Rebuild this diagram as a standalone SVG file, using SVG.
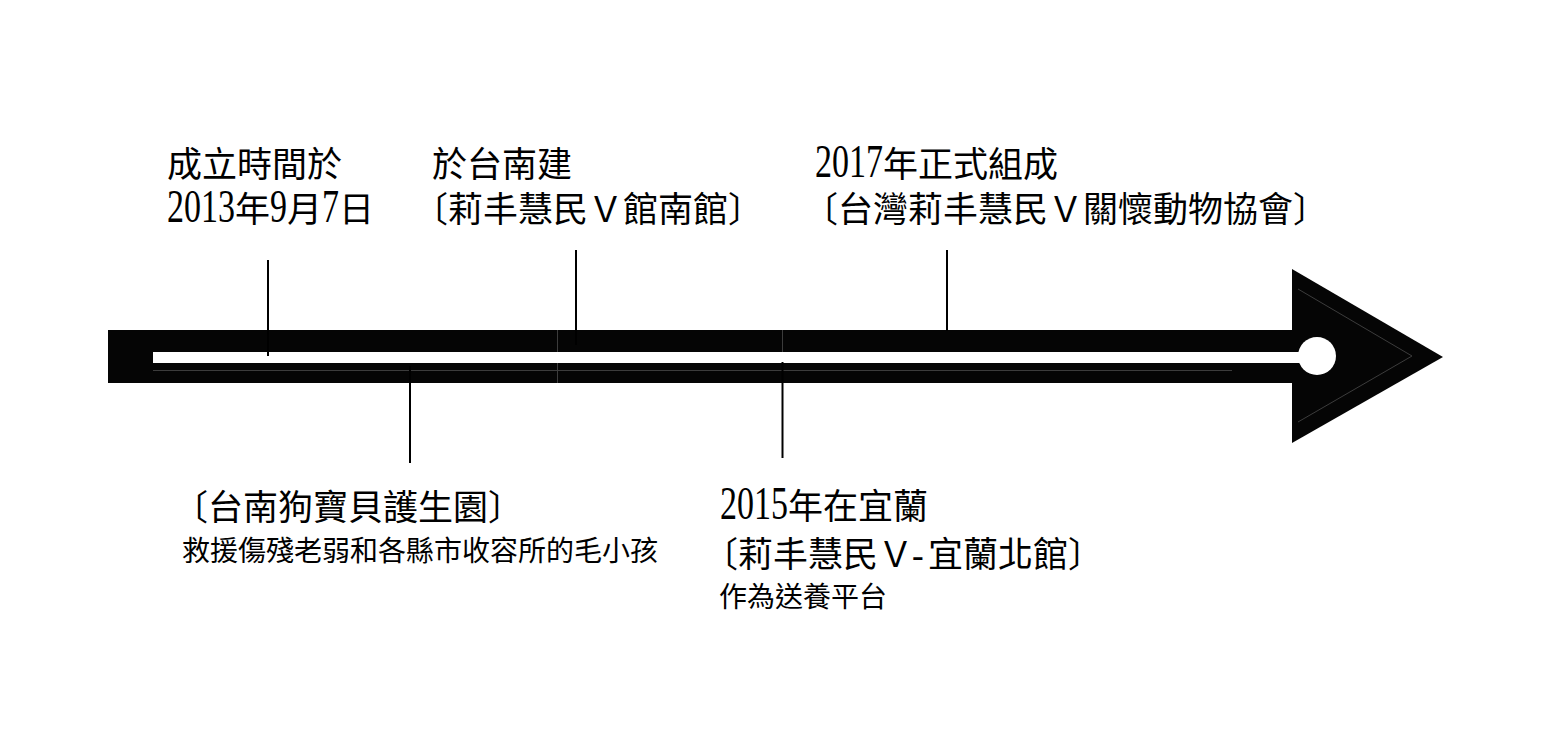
<svg xmlns="http://www.w3.org/2000/svg" width="1542" height="735" viewBox="0 0 1542 735">
<style>
.t{font-family:"Liberation Serif","Noto Sans CJK TC",serif;font-size:35px;fill:#000}
.s{font-size:28px}
.d{font-size:46px}
.tick{stroke:#000;stroke-width:2;fill:none}
.seam{stroke:#3c3c3c;stroke-width:1;fill:none}
</style>
<rect width="1542" height="735" fill="#fff"/>
<g id="timeline-arrow">
<rect x="108" y="330" width="1190" height="53" fill="#050505"/>
<polygon points="1292,269 1443,357 1292,443" fill="#050505"/>
<rect x="153" y="352" width="1160" height="11" fill="#fff"/>
<circle cx="1317" cy="356" r="19" fill="#fff"/>
<line class="seam" x1="153" y1="370.5" x2="1232" y2="370.5"/>
<line class="seam" x1="557.5" y1="330" x2="557.5" y2="352"/>
<line class="seam" x1="557.5" y1="363" x2="557.5" y2="383"/>
<line class="seam" x1="782.5" y1="330" x2="782.5" y2="352"/>
<polyline class="seam" stroke-width="0.7" points="1298,289 1412,356 1298,422"/>
</g>
<g id="connectors">
<line class="tick" x1="268" y1="260" x2="268" y2="356"/>
<line class="tick" x1="576" y1="250" x2="576" y2="345"/>
<line class="tick" x1="947" y1="250" x2="947" y2="331"/>
<line class="tick" x1="410" y1="366" x2="410" y2="463"/>
<line class="tick" x1="782.5" y1="362" x2="782.5" y2="458"/>
</g>
<g id="event-2013">
<text class="t" x="167" y="177">成立時間於</text>
<text class="t" y="222"><tspan class="d" x="167" textLength="68" lengthAdjust="spacingAndGlyphs">2013</tspan><tspan x="235">年</tspan><tspan class="d" x="270" textLength="17" lengthAdjust="spacingAndGlyphs">9</tspan><tspan x="287">月</tspan><tspan class="d" x="322" textLength="17" lengthAdjust="spacingAndGlyphs">7</tspan><tspan x="339">日</tspan></text>
</g>
<g id="event-tainan-south">
<text class="t" x="432" y="177">於台南建</text>
<text class="t" x="413" y="222">〔莉丰慧民Ｖ館南館〕</text>
</g>
<g id="event-2017">
<text class="t" y="177"><tspan class="d" x="815" textLength="68" lengthAdjust="spacingAndGlyphs">2017</tspan><tspan x="883">年正式組成</tspan></text>
<text class="t" x="803" y="222">〔台灣莉丰慧民Ｖ關懷動物協會〕</text>
</g>
<g id="event-dogpark">
<text class="t" x="173" y="520">〔台南狗寶貝護生園〕</text>
<text class="t s" x="182" y="561">救援傷殘老弱和各縣市收容所的毛小孩</text>
</g>
<g id="event-2015">
<text class="t" y="519"><tspan class="d" x="720" textLength="68" lengthAdjust="spacingAndGlyphs">2015</tspan><tspan x="788">年在宜蘭</tspan></text>
<text class="t" y="567"><tspan x="703">〔莉丰慧民Ｖ</tspan><tspan x="912">-</tspan><tspan x="928">宜蘭北館〕</tspan></text>
<text class="t s" x="719" y="607">作為送養平台</text>
</g>
</svg>
